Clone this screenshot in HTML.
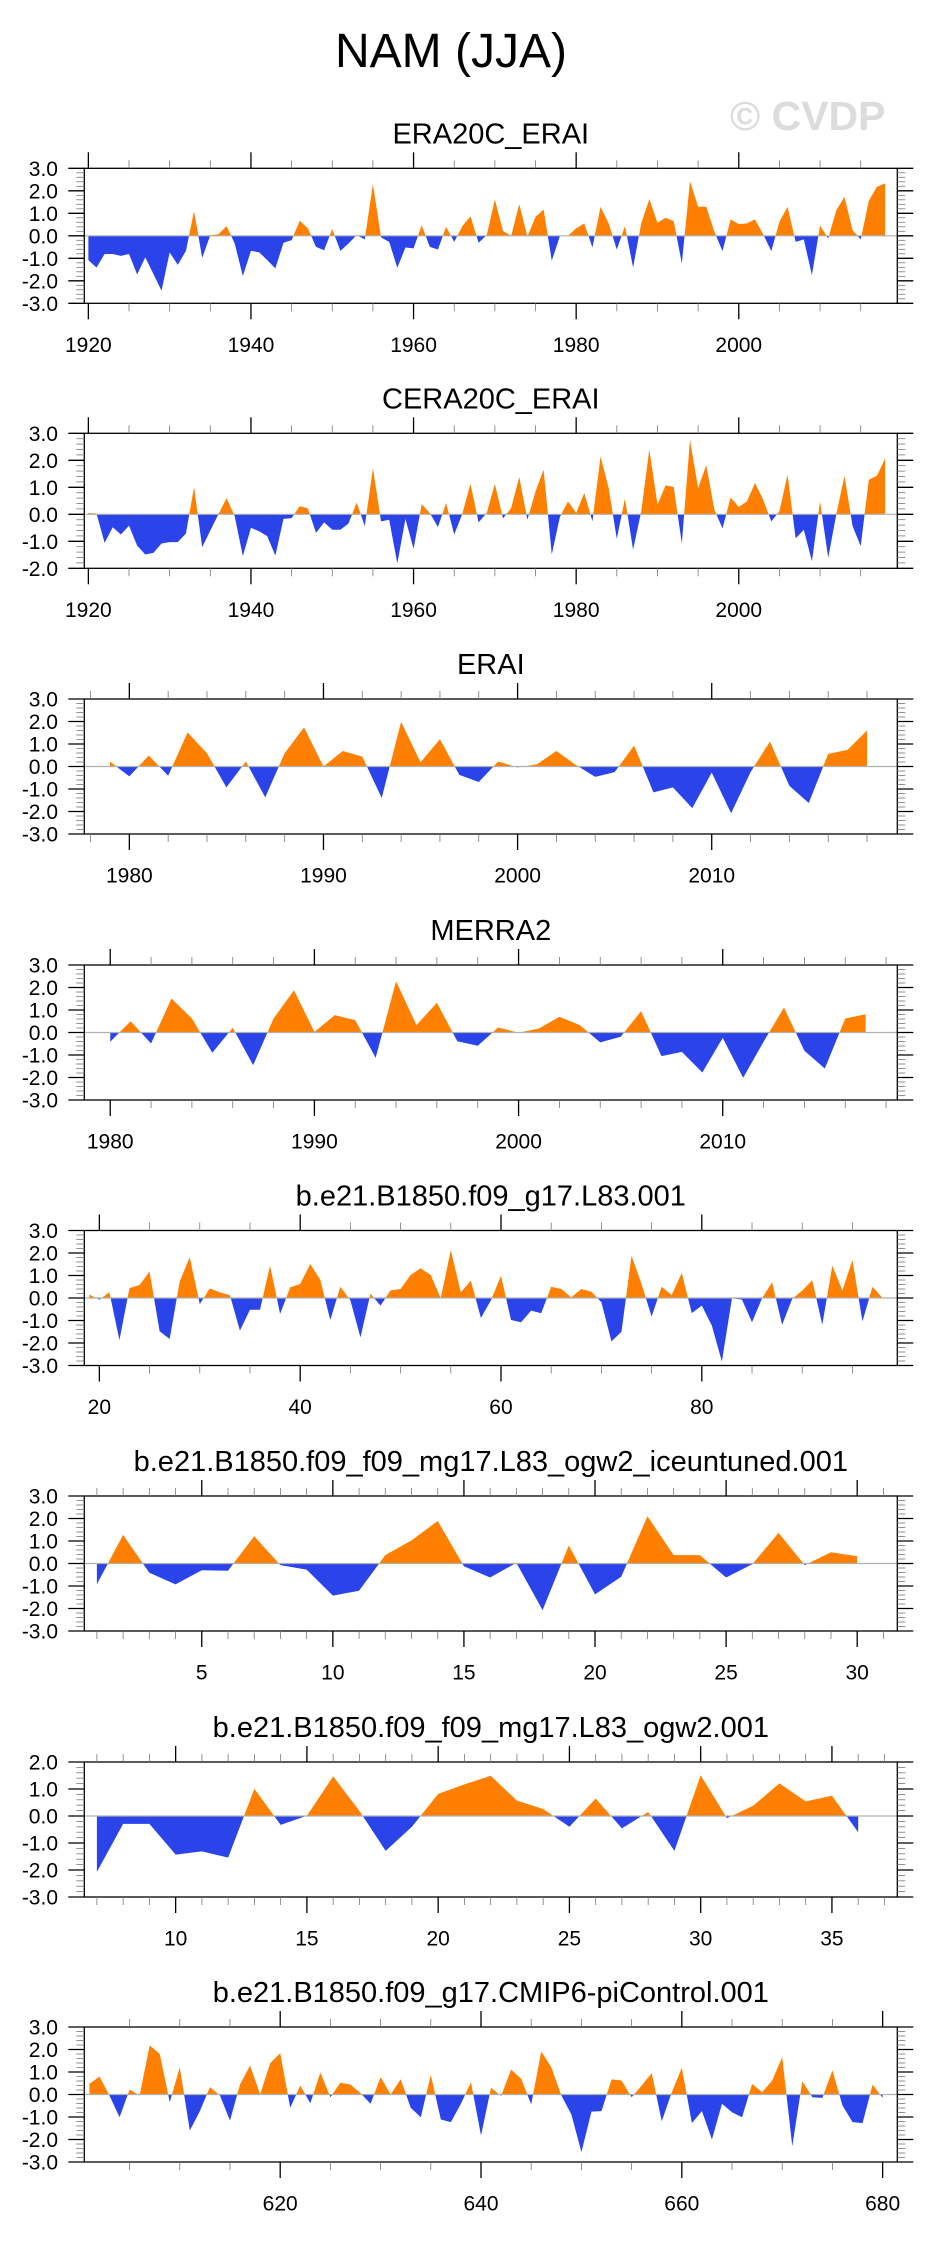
<!DOCTYPE html>
<html><head><meta charset="utf-8"><title>NAM (JJA)</title>
<style>
html,body{margin:0;padding:0;background:#fff;}
svg{display:block;font-family:"Liberation Sans",Arial,sans-serif;}
</style></head>
<body>
<svg id="chart" width="930" height="2241" viewBox="0 0 930 2241" xmlns="http://www.w3.org/2000/svg">
<rect x="0" y="0" width="930" height="2241" fill="#fff"/>
<text x="451" y="67" font-size="48" text-anchor="middle" fill="#000">NAM (JJA)</text>
<text x="730" y="130" font-size="41" font-weight="bold" fill="#dcdcdc">© CVDP</text>
</svg>
<script>
// ---- data ----
const era20cStart = 1920;
const era20cValues = [-1.08,-1.41,-0.81,-0.81,-0.89,-0.81,-1.72,-0.96,-1.70,-2.44,
-0.74,-1.29,-0.67,1.10,-0.98,0.03,0.07,0.43,-0.34,-1.79,
-0.67,-0.73,-1.08,-1.45,-0.31,-0.19,0.67,0.33,-0.49,-0.64,
0.30,-0.67,-0.34,0.03,-0.16,2.30,-0.07,-0.27,-1.42,-0.52,
-0.56,0.47,-0.49,-0.61,0.40,-0.27,0.43,0.87,-0.31,0.03,
1.61,0.22,-0.01,1.41,-0.04,0.84,1.17,-1.11,-0.01,0.00,
0.33,0.55,-0.52,1.29,0.55,-0.61,0.43,-1.41,0.55,1.63,
0.58,0.80,0.65,-1.23,2.43,1.29,1.29,0.18,-0.68,0.73,
0.52,0.55,0.73,0.07,-0.68,0.62,1.29,-0.27,-0.16,-1.75,
0.46,-0.12,1.14,1.73,0.25,-0.16,1.56,2.18,2.33];
const cera20cStart = 1920;
const cera20cValues = [0.05,0.03,-1.06,-0.48,-0.75,-0.42,-1.16,-1.49,-1.43,-1.08,
-1.03,-1.03,-0.71,1.01,-1.22,-0.60,0.00,0.60,-0.07,-1.55,
-0.50,-0.63,-0.81,-1.53,-0.17,-0.14,0.30,0.22,-0.69,-0.30,
-0.57,-0.57,-0.34,0.44,-0.44,1.71,-0.26,-0.20,-1.82,-0.17,
-1.28,0.37,0.05,-0.47,0.42,-0.75,0.02,1.13,-0.30,0.05,
1.12,-0.15,0.23,1.38,-0.20,0.85,1.65,-1.49,-0.10,0.48,
0.05,0.79,-0.26,2.14,0.97,-0.91,0.59,-1.31,0.10,2.41,
0.36,1.07,1.01,-1.08,2.76,0.97,1.82,0.17,-0.52,0.62,
0.27,0.48,1.16,0.54,-0.26,0.11,1.47,-0.89,-0.57,-1.74,
0.48,-1.61,0.00,1.43,-0.44,-1.18,1.28,1.43,2.06];
const eraiStart = 1979;
const eraiValues = [0.22,-0.44,0.49,-0.41,1.51,0.59,-0.93,0.22,-1.37,0.59,
1.74,0.00,0.69,0.44,-1.40,1.99,0.19,1.21,-0.37,-0.69,
0.22,-0.04,0.10,0.69,0.07,-0.46,-0.25,0.93,-1.15,-0.93,
-1.85,-0.27,-2.08,-0.25,1.11,-0.86,-1.62,0.56,0.74,1.60];
const merra2Start = 1980;
const merra2Values = [-0.41,0.50,-0.49,1.51,0.62,-0.90,0.21,-1.45,0.62,1.88,
0.03,0.77,0.55,-1.13,2.28,0.33,1.32,-0.39,-0.59,0.22,
-0.01,0.18,0.70,0.33,-0.44,-0.19,0.95,-1.05,-0.86,-1.78,
-0.24,-2.01,-0.41,1.11,-0.81,-1.60,0.62,0.81];
const g17L83Start = 19;
const g17L83Values = [0.15,-0.07,0.25,-1.87,0.44,0.58,1.17,-1.48,-1.82,0.73,
1.81,-0.27,0.43,0.25,0.13,-1.45,-0.52,-0.52,1.44,-0.71,
0.47,0.62,1.51,0.81,-0.98,0.50,-0.10,-1.75,0.19,-0.34,
0.34,0.40,1.02,1.32,1.02,-0.01,2.13,0.25,0.77,-0.89,
-0.10,0.99,-0.98,-1.08,-0.56,-0.68,0.50,0.40,0.03,0.40,
0.28,-0.19,-1.93,-1.50,1.88,0.62,-0.83,0.50,0.13,1.11,
-0.67,-0.34,-1.23,-2.83,-0.01,-0.07,-1.08,-0.01,0.70,-1.19,
-0.04,0.33,0.79,-1.19,1.44,0.33,1.69,-1.04,0.50,0.00];
const iceuntunedStart = 1;
const iceuntunedValues = [-0.92,1.27,-0.41,-0.93,-0.30,-0.32,1.21,-0.07,-0.27,-1.43,
-1.21,0.37,1.03,1.89,-0.12,-0.62,0.03,-2.07,0.80,-1.37,
-0.59,2.10,0.37,0.37,-0.62,-0.03,1.36,-0.07,0.50,0.32];
const ogw2Start = 7;
const ogw2Values = [-2.07,-0.29,-0.29,-1.43,-1.31,-1.54,1.01,-0.33,0.01,1.47,
0.19,-1.29,-0.40,0.82,1.17,1.49,0.57,0.26,-0.40,0.65,
-0.46,0.15,-1.29,1.51,-0.08,0.38,1.21,0.54,0.75,-0.60];
const piControlStart = 601;
const piControlValues = [0.47,0.80,-0.05,-1.01,0.22,-0.04,2.18,1.81,-0.34,1.21,
-1.60,-0.74,0.33,-0.04,-1.16,0.45,1.29,0.00,1.39,1.84,
-0.59,0.40,-0.39,0.98,-0.12,0.53,0.44,0.06,-0.41,0.77,
0.00,0.68,-0.59,-1.01,0.87,-1.11,-1.23,-0.41,0.55,-1.82,
0.30,-0.06,1.11,0.70,-0.44,1.91,1.21,-0.04,-0.89,-2.56,
-0.76,-0.74,0.67,0.62,-0.12,0.40,0.95,-1.19,0.10,1.19,
-1.27,-0.74,-2.00,-0.41,-0.79,-1.01,0.47,0.10,0.62,1.66,
-2.30,0.59,-0.12,-0.15,1.07,-0.49,-1.23,-1.27,0.44,-0.15];
const panelTitles = ["ERA20C_ERAI","CERA20C_ERAI","ERAI","MERRA2",
"b.e21.B1850.f09_g17.L83.001","b.e21.B1850.f09_f09_mg17.L83_ogw2_iceuntuned.001",
"b.e21.B1850.f09_f09_mg17.L83_ogw2.001","b.e21.B1850.f09_g17.CMIP6-piControl.001"];

const NS = "http://www.w3.org/2000/svg";
const svg = document.getElementById("chart");
function mk(tag, attrs, parent){
  const e = document.createElementNS(NS, tag);
  for (const k in attrs) e.setAttribute(k, attrs[k]);
  parent.appendChild(e);
  return e;
}
const L = 84.3, R = 897.3, H = 135;

function drawPanel(idx, slug, start, values, top, xmin, xmax, ymin, ymax, xMajor, xMinor){
  const T = top, B = top + H;
  const sx = v => L + (v - xmin) / (xmax - xmin) * (R - L);
  const sy = v => T + (ymax - v) / (ymax - ymin) * (B - T);
  const g = mk("g", {}, svg);
  
  

  const title = mk("text", {x:(L+R)/2, y:T-25, "font-size":29, "text-anchor":"middle", fill:"#000"}, g);
  title.textContent = panelTitles[idx];
  
  

  const z = sy(0);
  const defs = mk("defs", {}, g);
  const cpA = mk("clipPath", {id:"ca"+idx}, defs);
  mk("rect", {x:L, y:T, width:R-L, height:z-T}, cpA);
  const cpB = mk("clipPath", {id:"cb"+idx}, defs);
  mk("rect", {x:L, y:z, width:R-L, height:B-z}, cpB);

  let d = "M" + sx(start).toFixed(2) + "," + z.toFixed(2);
  values.forEach((v, i) => { d += " L" + sx(start + i).toFixed(2) + "," + sy(v).toFixed(2); });
  d += " L" + sx(start + values.length - 1).toFixed(2) + "," + z.toFixed(2) + " Z";
  const pos = mk("path", {d:d, fill:"#ff8000", "clip-path":"url(#ca"+idx+")"}, g);
  
  
  const neg = mk("path", {d:d, fill:"#2a44ea", "clip-path":"url(#cb"+idx+")"}, g);
  
  

  const zl = mk("line", {x1:L, x2:R, y1:z, y2:z, stroke:"#b0b0b0", "stroke-width":1.2}, g);
  
  

  const box = mk("rect", {x:L, y:T, width:R-L, height:B-T, fill:"none", stroke:"#000", "stroke-width":1.3}, g);
  
  

  // y ticks
  const ya = mk("g", {stroke:"#000"}, g);
  
  
  for (let k = Math.round(ymin*5); k <= Math.round(ymax*5); k++){
    const v = k / 5, y = sy(v), major = (k % 5 === 0);
    const len = major ? 16 : 8;
    mk("line", {x1:L-len, x2:L, y1:y, y2:y, "stroke-width": major?1.3:0.8, stroke: major?"#000":"#777"}, ya);
    mk("line", {x1:R, x2:R+len, y1:y, y2:y, "stroke-width": major?1.3:0.8, stroke: major?"#000":"#777"}, ya);
    if (major){
      const t = mk("text", {x:58, y:y+7.5, "font-size":21, "text-anchor":"end", fill:"#000", stroke:"none"}, ya);
      t.textContent = v.toFixed(1);
      
      
    }
  }
  // x ticks
  const xa = mk("g", {stroke:"#000"}, g);
  
  
  for (let k = Math.ceil(xmin/xMinor); k <= Math.floor(xmax/xMinor); k++){
    const v = k * xMinor, x = sx(v), major = (v % xMajor === 0);
    const len = major ? 16 : 8;
    mk("line", {x1:x, x2:x, y1:T-len, y2:T, "stroke-width": major?1.3:0.8, stroke: major?"#000":"#777"}, xa);
    mk("line", {x1:x, x2:x, y1:B, y2:B+len, "stroke-width": major?1.3:0.8, stroke: major?"#000":"#777"}, xa);
    if (major){
      const t = mk("text", {x:x, y:B+48.5, "font-size":21, "text-anchor":"middle", fill:"#000", stroke:"none"}, xa);
      t.textContent = String(v);
      
      
    }
  }
}

drawPanel(0, "era20c-erai", era20cStart, era20cValues, 168.3, 1919.5, 2019.5, -3, 3, 20, 5);
drawPanel(1, "cera20c-erai", cera20cStart, cera20cValues, 433.3, 1919.5, 2019.5, -2, 3, 20, 5);
drawPanel(2, "erai", eraiStart, eraiValues, 699, 1977.68, 2019.56, -3, 3, 10, 2);
drawPanel(3, "merra2", merra2Start, merra2Values, 965, 1978.73, 2018.55, -3, 3, 10, 2);
drawPanel(4, "g17-l83", g17L83Start, g17L83Values, 1230.5, 18.5, 99.47, -3, 3, 20, 5);
drawPanel(5, "ogw2-iceuntuned", iceuntunedStart, iceuntunedValues, 1496, 0.52, 31.53, -3, 3, 5, 1);
drawPanel(6, "ogw2", ogw2Start, ogw2Values, 1762, 6.52, 37.49, -3, 2, 5, 1);
drawPanel(7, "cmip6-picontrol", piControlStart, piControlValues, 2027, 600.49, 681.46, -3, 3, 20, 5);
</script>
</body></html>
